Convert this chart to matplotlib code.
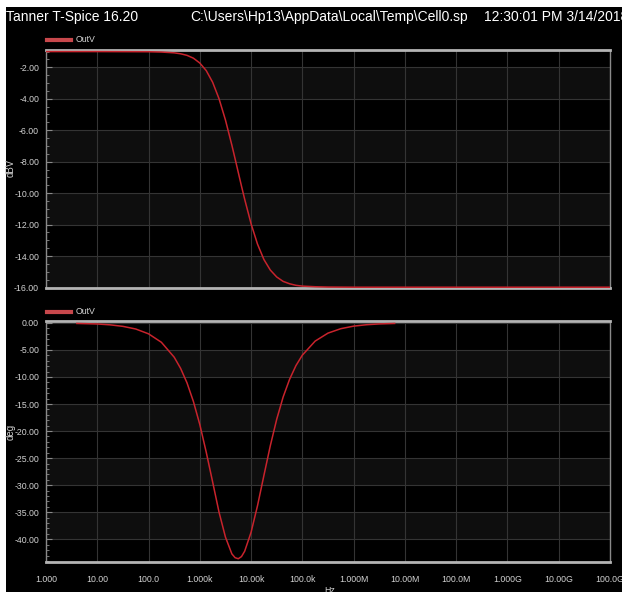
import matplotlib
matplotlib.use('Agg')
import matplotlib.pyplot as plt
from matplotlib import font_manager
from matplotlib.patches import Rectangle
from matplotlib.ticker import FixedLocator, MultipleLocator, NullLocator

# frequency response of OutV
gain_freq = [1, 10, 100, 177.8, 316.2, 421.7, 562.3, 749.9, 1000, 1334, 1778, 2371,
             3162, 4217, 4870, 5623, 6494, 7499, 10000, 13335, 17783, 23714, 31623,
             42170, 56234, 74990, 1e5, 1.778e5, 3.162e5, 1e6, 1e7, 1e8, 1e9, 1e10, 1e11]
gain_dbv = [-1.00, -1.00, -1.01, -1.03, -1.08, -1.14, -1.24, -1.42, -1.73, -2.21,
            -2.95, -4.00, -5.35, -6.95, -7.81, -8.68, -9.55, -10.39, -11.95, -13.24,
            -14.22, -14.89, -15.33, -15.61, -15.76, -15.86, -15.91, -15.95, -15.97,
            -15.98, -15.98, -15.98, -15.98, -15.98, -15.98]

phase_freq = [4, 10, 17.78, 31.62, 56.23, 100, 177.8, 316.2, 421.7, 562.3, 749.9,
              1000, 1334, 1778, 2371, 3162, 4217, 4870, 5623, 6494, 7499, 10000,
              13335, 17783, 23714, 31623, 42170, 56234, 74990, 1e5, 1.778e5, 3.162e5,
              5.623e5, 1e6, 1.778e6, 3.162e6, 6.3e6]
phase_deg = [-0.10, -0.20, -0.36, -0.64, -1.13, -2.02, -3.58, -6.34, -8.40, -11.08,
             -14.53, -18.80, -23.9, -29.4, -35.0, -39.6, -42.7, -43.4, -43.6, -43.2,
             -42.2, -38.7, -33.8, -28.2, -22.7, -17.8, -13.70, -10.45, -7.89, -5.96,
             -3.36, -1.89, -1.07, -0.60, -0.34, -0.19, -0.10]

decades = [1, 10, 100, 1e3, 1e4, 1e5, 1e6, 1e7, 1e8, 1e9, 1e10, 1e11]
decade_labels = ['1.000', '10.00', '100.0', '1.000k', '10.00k', '100.0k', '1.000M',
                 '10.00M', '100.0M', '1.000G', '10.00G', '100.0G']
gain_ticks = [-2, -4, -6, -8, -10, -12, -14, -16]
phase_ticks = [0, -5, -10, -15, -20, -25, -30, -35, -40]

installed = {f.name for f in font_manager.fontManager.ttflist}
if 'Liberation Sans Narrow' in installed:
    FONT, TITLE_SIZE, SMALL = ['Liberation Sans Narrow', 'DejaVu Sans'], 11.5, 7
else:
    FONT, TITLE_SIZE, SMALL = ['Liberation Sans', 'DejaVu Sans'], 10, 6.3
TXT = '#d2d2d2'
RED = '#c8232c'

fig = plt.figure(figsize=(6.22, 5.92), dpi=100, facecolor='white')
fig.patches.append(Rectangle((6 / 622, 0), 1, 1 - 7 / 592, transform=fig.transFigure,
                             facecolor='black', edgecolor='none', zorder=-10))

ty = 1 - 17 / 592
fig.text(6 / 622, ty, 'Tanner T-Spice 16.20', color='white', fontsize=TITLE_SIZE,
         family=FONT, va='center', ha='left')
fig.text(190 / 622, ty, 'C:\\Users\\Hp13\\AppData\\Local\\Temp\\Cell0.sp',
         color='white', fontsize=TITLE_SIZE, family=FONT, va='center', ha='left')
fig.text(484 / 622, ty, '12:30:01 PM 3/14/2018', color='white', fontsize=TITLE_SIZE,
         family=FONT, va='center', ha='left')

ax1 = fig.add_axes([46 / 622, 1 - 288 / 592, 564 / 622, 238 / 592])
ax2 = fig.add_axes([46 / 622, 1 - 562 / 592, 564 / 622, 241 / 592])


def style(ax, ticks, minor, ylim, ylabel, label_y):
    ax.set_facecolor('black')
    ax.set_xscale('log')
    ax.set_xlim(1, 1e11)
    ax.set_ylim(*ylim)
    ax.xaxis.set_major_locator(FixedLocator(decades))
    ax.xaxis.set_minor_locator(NullLocator())
    ax.yaxis.set_major_locator(FixedLocator(ticks))
    ax.yaxis.set_minor_locator(MultipleLocator(minor))
    ax.set_yticklabels(['%.2f' % t for t in ticks])
    ax.grid(True, which='major', color='#343434', lw=0.8)
    ax.tick_params(which='both', direction='in', colors='#8a8a8a', labelcolor=TXT,
                   labelsize=SMALL, left=True, bottom=False, pad=5)
    ax.tick_params(which='major', length=4)
    ax.tick_params(which='minor', length=2.5)
    for lab in ax.get_yticklabels():
        lab.set_family(FONT)
    for s in ('top', 'bottom'):
        ax.spines[s].set_color('#b4b4b4')
        ax.spines[s].set_linewidth(2)
    for s in ('left', 'right'):
        ax.spines[s].set_color('#8a8a8a')
        ax.spines[s].set_linewidth(1)
    fig.text(11 / 622, 1 - label_y / 592, ylabel, rotation=90, color=TXT,
             fontsize=SMALL + 0.7, family=FONT, va='center', ha='center')


style(ax1, gain_ticks, 0.5, (-16.03, -0.9), 'dBV', 168)
style(ax2, phase_ticks, 1, (-44.2, 0.35), 'deg', 432)

for t0, t1 in zip(gain_ticks[0::2], gain_ticks[1::2]):
    ax1.axhspan(t1, t0, color='#0e0e0e', lw=0, zorder=0)
for t0, t1 in zip(phase_ticks[1::2], phase_ticks[2::2]):
    ax2.axhspan(t1, t0, color='#0e0e0e', lw=0, zorder=0)

ax1.set_xticklabels([])
ax2.set_xticklabels(decade_labels)
for lab in ax2.get_xticklabels():
    lab.set_family(FONT)
ax2.tick_params(axis='x', pad=9)

ax1.plot(gain_freq, gain_dbv, color=RED, lw=1.1, zorder=3)
ax2.plot(phase_freq, phase_deg, color=RED, lw=1.1, zorder=3)

# legends
for y in (40, 312):
    fig.lines.append(plt.Line2D([47 / 622, 71 / 622], [1 - y / 592] * 2,
                                transform=fig.transFigure, color='#c8484c', lw=3))
    fig.text(76 / 622, 1 - y / 592, 'OutV', color=TXT, fontsize=SMALL, family=FONT,
             va='center', ha='left')

fig.text(330 / 622, 1 - 586 / 592, 'Hz', color=TXT, fontsize=SMALL, family=FONT,
         va='top', ha='center')

fig.savefig('out.png', dpi=100, facecolor=fig.get_facecolor())
